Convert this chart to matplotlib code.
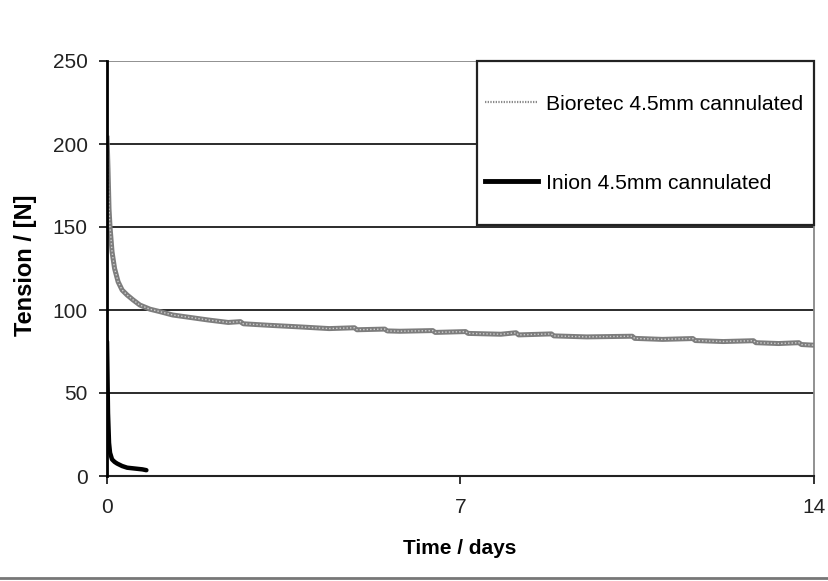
import matplotlib.pyplot as plt
from matplotlib.lines import Line2D
from matplotlib.patches import Rectangle

# --- data ---
bioretec_days = [0, 0.02, 0.04, 0.06, 0.1, 0.15, 0.22, 0.3, 0.4, 0.52, 0.65, 0.85,
                 1.05, 1.3, 1.65, 2.0, 2.4, 2.64, 2.7, 3.2, 3.83, 4.4, 4.9, 4.95,
                 5.5, 5.55, 5.8, 6.45, 6.5, 7.1, 7.15, 7.8, 8.1, 8.15, 8.8, 8.85,
                 9.5, 10.4, 10.45, 11.0, 11.6, 11.65, 12.2, 12.8, 12.85, 13.3,
                 13.7, 13.75, 14.0]
bioretec_tension = [205, 185, 161, 150, 135, 125, 117, 112, 109, 106, 103, 100.5,
                    99, 97, 95.5, 94, 92.5, 93, 91.7, 90.8, 89.8, 88.8, 89.3, 88.1,
                    88.5, 87.4, 87.2, 87.6, 86.5, 87, 85.9, 85.4, 86.3, 85.0, 85.6, 84.4,
                    83.8, 84.2, 82.9, 82.3, 82.8, 81.6, 81.0, 81.5, 80.3, 79.8,
                    80.3, 79.2, 78.8]

inion_days = [0, 0.02, 0.04, 0.06, 0.1, 0.15, 0.2, 0.3, 0.4, 0.55, 0.7, 0.78]
inion_tension = [81, 38, 20, 14, 10, 8.5, 7.5, 6, 5, 4.5, 4, 3.5]

x_ticks = [0, 7, 14]
y_ticks = [0, 50, 100, 150, 200, 250]
series_labels = ["Bioretec 4.5mm cannulated", "Inion 4.5mm cannulated"]

plt.rcParams['font.family'] = ['Liberation Sans', 'DejaVu Sans']

W, H = 829, 581
fig = plt.figure(figsize=(W / 100, H / 100), dpi=100)
ax = fig.add_axes([107 / W, 1 - 476 / H, 707 / W, 415 / H])

# gridlines
for v in y_ticks[1:-1]:
    ax.axhline(v, color='#1a1a1a', lw=1.3, zorder=0)
ax.axhline(250, color='#888888', lw=1.3, zorder=0)

# curves
ax.plot(bioretec_days, bioretec_tension, color='#7d7d7d', lw=3.6, zorder=4,
        solid_capstyle='butt')
ax.plot(bioretec_days, bioretec_tension, color='#cfcfcf', lw=1.0, ls=(0, (1, 1.5)),
        zorder=5)
ax.plot(inion_days, inion_tension, color='black', lw=3.2, zorder=6,
        solid_capstyle='round')

ax.set_xlim(0, 14)
ax.set_ylim(0, 250)
ax.set_xticks(x_ticks)
ax.set_yticks(y_ticks)
ax.tick_params(axis='both', direction='out', length=6, width=1.3, color='#222222',
               labelsize=15, labelcolor='#222222')
ax.tick_params(axis='y', pad=8)
ax.tick_params(axis='x', pad=10)

ax.spines['left'].set_color('black')
ax.spines['left'].set_linewidth(2)
ax.spines['bottom'].set_color('#222222')
ax.spines['bottom'].set_linewidth(1.5)
ax.spines['right'].set_color('#888888')
ax.spines['right'].set_linewidth(1.3)
ax.spines['top'].set_visible(False)
ax.spines['left'].set_zorder(7)

# axis titles
fig.text(460 / W, 1 - 549 / H, "Time / days", fontsize=15, fontweight='bold',
         ha='center', va='center')
fig.text(26 / W, 1 - 265 / H, "Tension / [N]", fontsize=17, fontweight='bold',
         ha='center', va='center', rotation=90)

# legend box
ax.add_patch(Rectangle((0.523, 0.605), 0.477, 0.395, transform=ax.transAxes,
                       facecolor='white', edgecolor='#222222', lw=1.6, zorder=3,
                       clip_on=False))
handles = [Line2D([], [], color='#8a8a8a', lw=1.6, ls=(0, (0.6, 0.6))),
           Line2D([], [], color='black', lw=3.5)]
leg = ax.legend(handles, series_labels, loc='center left',
                bbox_to_anchor=(0.535, 0.801), frameon=False, fontsize=15.2,
                borderpad=0, borderaxespad=0, labelspacing=2.85,
                handlelength=2.5, handletextpad=0.4)
leg.set_zorder(8)

# bottom border line
fig.add_artist(Line2D([0, 1], [0.006, 0.006], color='#777777', lw=2))

fig.savefig("out.png", dpi=100)
